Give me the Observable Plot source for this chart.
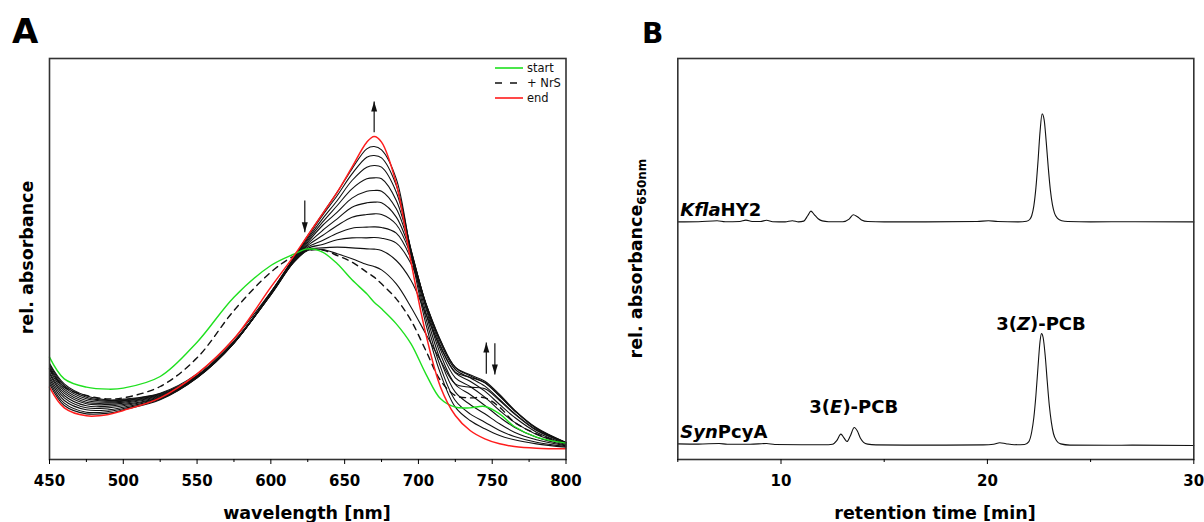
<!DOCTYPE html>
<html><head><meta charset="utf-8">
<script src="https://cdn.jsdelivr.net/npm/d3@7"></script>
<script src="https://cdn.jsdelivr.net/npm/@observablehq/plot@0.6"></script>
<style>
html,body{margin:0;padding:0;background:#fff;}
#wrap{position:relative;width:1204px;height:522px;overflow:hidden;font-family:"DejaVu Sans",sans-serif;}
#wrap > svg{position:absolute;top:0;overflow:visible;}
</style></head><body><div id="wrap"></div>
<script>
// ---------- Panel A: absorbance spectra ----------
const wavelengths = [450,460,475,490,500,525,550,575,600,615,625,635,645,655,665,670,675,685,695,705,715,725,735,745,755,765,780,800];
const startSpectrum = [.290,.225,.200,.194,.197,.232,.335,.470,.565,.598,.615,.605,.570,.522,.480,.455,.435,.390,.330,.240,.165,.140,.138,.142,.120,.082,.050,.032];
const nrsSpectrum   = [.255,.200,.175,.165,.168,.202,.288,.430,.545,.592,.610,.611,.595,.575,.545,.530,.510,.465,.400,.310,.220,.175,.168,.168,.140,.095,.060,.030];
const endSpectrum   = [.200,.138,.114,.118,.130,.168,.240,.345,.500,.590,.655,.720,.785,.860,.935,.952,.935,.810,.575,.360,.200,.115,.070,.045,.030,.022,.017,.015];
const titration1  = [.210,.145,.120,.122,.132,.162,.228,.332,.485,.585,.655,.720,.785,.855,.915,.922,.912,.825,.600,.390,.240,.140,.100,.075,.055,.042,.030,.020];
const titration2  = [.218,.152,.125,.127,.136,.164,.228,.332,.484,.584,.650,.715,.775,.840,.890,.895,.888,.805,.608,.408,.260,.160,.120,.095,.070,.052,.035,.022];
const titration3  = [.225,.160,.132,.132,.140,.166,.229,.332,.483,.582,.645,.705,.760,.820,.860,.865,.860,.785,.612,.424,.280,.185,.148,.120,.090,.065,.042,.024];
const titration4  = [.232,.168,.138,.138,.144,.168,.230,.333,.482,.580,.640,.695,.745,.795,.825,.828,.825,.760,.612,.438,.298,.208,.178,.145,.110,.080,.050,.026];
const titration5  = [.240,.175,.144,.143,.148,.170,.230,.333,.481,.579,.635,.685,.725,.767,.788,.790,.788,.735,.608,.445,.312,.228,.202,.170,.130,.095,.058,.028];
const titration6  = [.245,.182,.150,.148,.152,.172,.231,.334,.480,.578,.630,.670,.705,.740,.753,.755,.753,.710,.602,.450,.324,.243,.218,.188,.148,.110,.065,.030];
const titration7  = [.252,.188,.155,.152,.155,.174,.232,.334,.479,.576,.625,.655,.685,.710,.718,.720,.718,.688,.595,.452,.333,.253,.228,.203,.163,.122,.072,.032];
const titration8  = [.258,.194,.160,.155,.158,.176,.233,.335,.478,.575,.620,.640,.662,.677,.680,.681,.679,.662,.585,.452,.339,.259,.234,.213,.173,.130,.076,.033];
const titration9  = [.263,.200,.165,.158,.160,.178,.234,.336,.477,.573,.616,.628,.642,.648,.648,.649,.647,.632,.570,.450,.340,.260,.237,.218,.178,.132,.078,.034];
const titration10 = [.268,.205,.170,.160,.162,.180,.235,.338,.478,.572,.612,.618,.620,.618,.615,.614,.610,.580,.520,.420,.320,.245,.230,.214,.174,.130,.076,.034];
const titration11 = [.272,.210,.174,.162,.164,.182,.240,.345,.485,.572,.610,.613,.600,.585,.568,.562,.552,.510,.440,.360,.280,.210,.200,.195,.160,.120,.070,.033];
const titrationSeries = [titration1,titration2,titration3,titration4,titration5,titration6,titration7,titration8,titration9,titration10,titration11];
const wavelengthTicks = [450,500,550,600,650,700,750,800];
const wavelengthMinorTicks = [475,525,575,625,675,725,775];
// arrows: wavelength, from, to
const arrowNm   = [670, 623, 746, 751.8];
const arrowFrom = [0.965, 0.760, 0.240, 0.332];
const arrowTo   = [1.057, 0.665, 0.334, 0.238];
const legendNames = ["start", "+ NrS", "end"];

// ---------- Panel B: HPLC ----------
const kflaTime = [5.0,6.0,6.9,7.3,8.0,8.3,8.6,9.0,9.3,9.6,10.2,10.55,10.85,11.1,11.3,11.45,11.6,11.8,12.0,12.3,13.0,13.3,13.5,13.7,13.9,14.2,15.0,17.0,19.5,20.05,20.5,21.5,21.9,22.05,22.15,22.25,22.35,22.45,22.55,22.65,22.75,22.85,22.95,23.05,23.15,23.25,23.4,23.6,23.9,25.0,27.0,30.0];
const kflaSignal = [0.0,0.05,0.3,0.05,0.1,0.45,0.1,0.1,0.4,0.05,0.0,0.3,0.0,0.2,1.6,2.7,1.9,0.8,0.25,0.05,0.05,0.7,1.8,1.3,0.5,0.1,0.0,0.0,0.1,0.3,0.1,0.0,0.15,0.6,1.6,4.0,8.5,15.0,22.5,27.0,25.5,20.0,13.5,8.0,4.3,2.2,0.9,0.3,0.1,0.0,0.05,0.0];
const synTime = [5.0,6.0,7.0,7.4,8.5,9.3,9.7,11.0,12.3,12.5,12.7,12.9,13.05,13.2,13.35,13.55,13.7,13.85,14.0,14.2,14.6,16.0,18.0,19.8,20.3,20.6,20.9,21.3,21.8,22.0,22.15,22.25,22.35,22.45,22.55,22.62,22.7,22.8,22.9,23.0,23.1,23.2,23.35,23.55,24.0,26.0,27.0,30.0];
const synSignal = [0.4,0.35,0.5,0.3,0.3,0.5,0.25,0.2,0.2,0.3,1.2,2.85,1.9,1.0,2.3,4.5,3.6,1.8,0.8,0.35,0.15,0.1,0.1,0.15,0.3,0.7,0.45,0.2,0.25,0.9,3.5,7.0,12.5,19.5,26.0,28.0,27.0,22.5,16.0,10.0,5.8,3.0,1.2,0.4,0.1,0.05,0.1,0.0];
const traceNames = ["KflaHY2", "SynPcyA"];
const traceItalic = ["Kfla", "Syn"];
const traceRoman = ["HY2", "PcyA"];
const traceOffsets = [59.4, 3.5];
const timeTicks = [10, 20, 30];
const timeMinorTicks = [5, 15, 25];
const peakLabelTime = [13.55, 22.62];
const peakLabelValue = [11.4, 32.25];
const peakLabelIsomer = ["E", "Z"];

// ---------- build tables ----------
const GREEN = "#1fe01f", RED = "#ff1c1c", INK = "#111";
const specRows = [];
function addSpec(name, arr) { arr.forEach((a, i) => specRows.push({series: name, nm: wavelengths[i], a})); }
addSpec("start", startSpectrum);
addSpec("+ NrS", nrsSpectrum);
titrationSeries.forEach((arr, k) => addSpec("t" + (k + 1), arr));
addSpec("end", endSpectrum);
const arrows = arrowNm.map((nm, i) => ({nm, from: arrowFrom[i], to: arrowTo[i]}));

const arrowHead = {draw(ctx) { ctx.moveTo(0, 0); ctx.lineTo(-3, 10); ctx.lineTo(3, 10); ctx.closePath(); }};
const tickFont = {fontFamily: "DejaVu Sans", fontSize: 15, fontWeight: "bold"};

const plotA = Plot.plot({
  width: 600, height: 522,
  marginLeft: 49, marginRight: 34.5, marginTop: 58, marginBottom: 63,
  style: {fontFamily: "DejaVu Sans", overflow: "visible", background: "transparent"},
  x: {domain: [450, 800]},
  y: {domain: [-0.017, 1.186], axis: null},
  marks: [
    Plot.line(specRows.filter(d => d.series[0] === "t"), {x: "nm", y: "a", z: "series", stroke: INK, strokeWidth: 1.1, curve: "catmull-rom"}),
    Plot.line(specRows.filter(d => d.series === "+ NrS"), {x: "nm", y: "a", stroke: INK, strokeWidth: 1.4, strokeDasharray: "6,5", curve: "catmull-rom"}),
    Plot.line(specRows.filter(d => d.series === "start"), {x: "nm", y: "a", stroke: GREEN, strokeWidth: 1.4, curve: "catmull-rom"}),
    Plot.line(specRows.filter(d => d.series === "end"), {x: "nm", y: "a", stroke: RED, strokeWidth: 1.5, curve: "catmull-rom"}),
    Plot.link(arrows, {x1: "nm", x2: "nm", y1: "from", y2: "to", stroke: INK, strokeWidth: 1.2}),
    Plot.dot(arrows, {x: "nm", y: "to", symbol: arrowHead, r: 3, fill: INK, stroke: null, rotate: d => d.to > d.from ? 0 : 180}),
    Plot.frame({stroke: "#333", strokeWidth: 1.6}),
    Plot.axisX(wavelengthTicks, {tickSize: 5, tickPadding: 11, label: null, tickFormat: d => String(d), ...tickFont}),
    Plot.axisX(wavelengthMinorTicks, {tickSize: 3, label: null, tickFormat: () => ""})
  ]
});

const chromRows = [];
[[kflaTime, kflaSignal], [synTime, synSignal]].forEach(([ts, vs], k) =>
  ts.forEach((t, i) => chromRows.push({trace: traceNames[k], t, v: vs[i] + traceOffsets[k]})));

const plotB = Plot.plot({
  width: 604, height: 522,
  marginLeft: 77.3, marginRight: 10.7, marginTop: 58, marginBottom: 63,
  style: {fontFamily: "DejaVu Sans", overflow: "visible", background: "transparent"},
  x: {domain: [5, 30]},
  y: {domain: [0, 100.25], axis: null},
  marks: [
    Plot.line(chromRows, {x: "t", y: "v", z: "trace", stroke: INK, strokeWidth: 1.1, curve: "monotone-x"}),
    Plot.frame({stroke: "#333", strokeWidth: 1.6}),
    Plot.axisX(timeTicks, {tickSize: 5, tickPadding: 11, label: null, tickFormat: d => String(d), ...tickFont}),
    Plot.axisX(timeMinorTicks, {tickSize: 3, label: null, tickFormat: () => ""})
  ]
});

const wrap = document.getElementById("wrap");
plotA.style.left = "0px";
plotB.style.left = "600px";
wrap.appendChild(plotA);
wrap.appendChild(plotB);

// ---------- overlay text ----------
const ov = d3.select(wrap).append("svg").attr("width", 1204).attr("height", 522)
  .style("left", "0px").style("pointer-events", "none")
  .attr("font-family", "DejaVu Sans");
function text(x, y, size, weight, anchor) {
  return ov.append("text").attr("x", x).attr("y", y).attr("font-size", size)
    .attr("font-weight", weight).attr("text-anchor", anchor).attr("fill", "#000");
}
text(12, 43, 34, "bold", "start").text("A");
text(642, 43, 28, "bold", "start").text("B");
text(307, 519, 17.5, "bold", "middle").text("wavelength [nm]");
text(935, 519, 17.5, "bold", "middle").text("retention time [min]");
ov.append("text").attr("transform", "translate(33,257.5) rotate(-90)").attr("text-anchor", "middle")
  .attr("font-size", 17.5).attr("font-weight", "bold").text("rel. absorbance");
const yb = ov.append("text").attr("transform", "translate(642,258.5) rotate(-90)").attr("text-anchor", "middle")
  .attr("font-size", 17.5).attr("font-weight", "bold");
yb.append("tspan").text("rel. absorbance");
yb.append("tspan").attr("font-size", 12).attr("dy", 4).text("650nm");

// legend (panel A)
const legendColors = [GREEN, INK, RED];
legendNames.forEach((name, i) => {
  const y = 68 + 15 * i;
  ov.append("line").attr("x1", 495).attr("x2", i === 1 ? 518 : 523).attr("y1", y).attr("y2", y)
    .attr("stroke", legendColors[i]).attr("stroke-width", 1.6)
    .attr("stroke-dasharray", i === 1 ? "7,8" : null);
  text(527, y + 4, 11.5, "normal", "start").attr("fill", "#111").text(name);
});

// panel B annotations positioned through plot B scales
const sx = plotB.scale("x"), sy = plotB.scale("y");
traceNames.forEach((name, k) => {
  const ts = k === 0 ? kflaTime : synTime, vs = k === 0 ? kflaSignal : synSignal;
  const t = text(600 + sx.apply(ts[0]) + 3, sy.apply(vs[0] + traceOffsets[k]) - 5.5, 18, "bold", "start");
  t.append("tspan").attr("font-style", "italic").text(traceItalic[k]);
  t.append("tspan").text(traceRoman[k]);
});
peakLabelTime.forEach((tm, i) => {
  const t = text(600 + sx.apply(tm), sy.apply(peakLabelValue[i]), 18, "bold", "middle");
  t.append("tspan").text("3(");
  t.append("tspan").attr("font-style", "italic").text(peakLabelIsomer[i]);
  t.append("tspan").text(")-PCB");
});
</script></body></html>
